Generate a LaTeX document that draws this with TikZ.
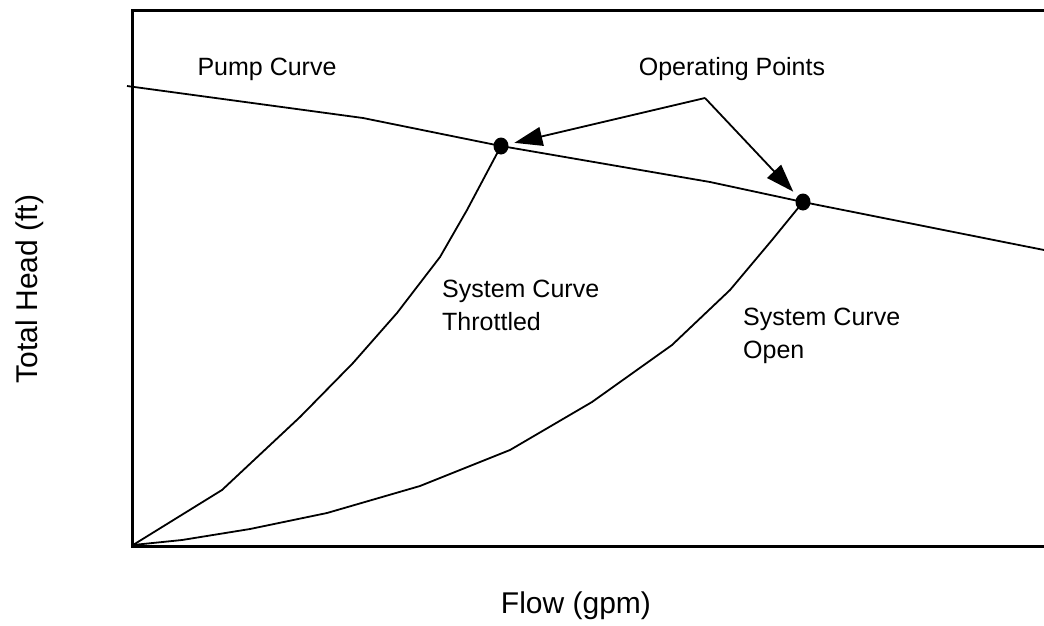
\documentclass[tikz,border=0pt]{standalone}
\usepackage{fontspec}
\setmainfont{Liberation Sans}
\usetikzlibrary{arrows.meta,positioning,calc,shapes.geometric}

\begin{document}
\begin{tikzpicture}[x=1pt,y=-1pt]
\tikzstyle{lbl} = [font=\fontsize{25}{33}\selectfont, inner sep=0pt, align=left]
\tikzstyle{axlbl} = [font=\fontsize{30}{36}\selectfont, inner sep=0pt]
\tikzstyle{curve} = [line width=1.8pt, line join=round]
\tikzstyle{oppt} = [ellipse, fill, minimum width=15pt, minimum height=17pt, inner sep=0pt]
\tikzset{pointer/.style={line width=1.8pt, -{Triangle[length=28pt,width=19pt]}, shorten >=6pt}}
\useasboundingbox (0,0) rectangle (1044,625);

% frame of the chart (no right side)
\draw[line width=3pt] (1044,10) -- (132,10) -- (132,546) -- (1044,546);

% operating points
\node[oppt] (op1) at (501,146) {};
\node[oppt] (op2) at (803,202) {};
\coordinate (origin) at (133,545);

% pump curve
\coordinate (pc0) at (127,86);
\coordinate (pc1) at (363,118);
\coordinate (pc2) at (710,182);
\coordinate (pc3) at (1044,250);
\draw[curve] (pc0) -- (pc1) -- (op1.center) -- (pc2) -- (op2.center) -- (pc3);

% system curve, throttled
\draw[curve] (origin) -- (222,490) -- (300,417) -- (353,363) -- (397,313)
  -- (440,257) -- (467,210) -- (op1.center);

% system curve, open
\draw[curve] (origin) -- (182,540) -- (250,529) -- (327,513) -- (420,486)
  -- (510,450) -- (592,402) -- (672,345) -- (730,290) -- (772,240) -- (op2.center);

% labels
\node[lbl, anchor=base] (pump) at (267,75) {Pump Curve};
\node[lbl, anchor=base] (oplbl) at (732,75) {Operating Points};
\node[lbl, anchor=base west] (thr) at (442,330) {System Curve\\Throttled};
\node[lbl, anchor=base west] (open) at (743,358) {System Curve\\Open};
\node[axlbl, anchor=base] (flow) at (576,613) {Flow (gpm)};
\node[axlbl, rotate=90, anchor=base] (head) at (37,289) {Total Head (ft)};

% arrows to the operating points
\coordinate (opsrc) at (705,98);
\draw[pointer] (opsrc) -- (op1);
\draw[pointer] (opsrc) -- (op2);
\end{tikzpicture}
\end{document}
